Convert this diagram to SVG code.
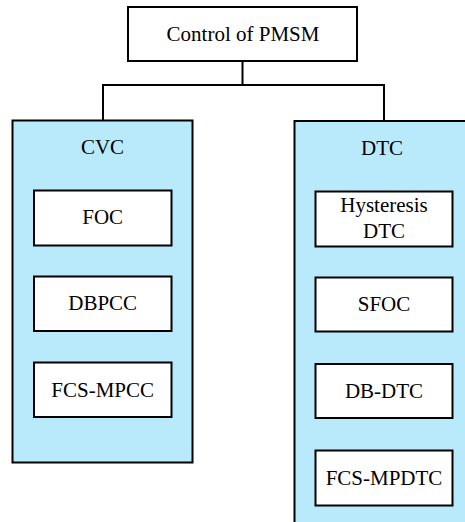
<svg xmlns="http://www.w3.org/2000/svg" width="465" height="522" viewBox="0 0 465 522">
<style>
.box{fill:#ffffff;stroke:#000;stroke-width:2}
.grp{fill:#b8eafc;stroke:#000;stroke-width:2}
.t{font-family:"Liberation Serif","Times New Roman",serif;font-size:21px;fill:#000;text-anchor:middle}
.c{fill:none;stroke:#000;stroke-width:2}
</style>
<rect width="465" height="522" fill="#fff"/>
<g id="connectors">
<path class="c" d="M242.5,61 V85 M103,85 H384 M103,84 V121 M384,84 V121"/>
</g>
<g id="root">
<rect class="box" x="128" y="7" width="229" height="54"/>
<text class="t" x="243" y="41">Control of PMSM</text>
</g>
<g id="cvc">
<rect class="grp" x="12.5" y="120.5" width="180" height="342"/>
<text class="t" x="102.5" y="154">CVC</text>
</g>
<g id="foc">
<rect class="box" x="34" y="190.5" width="137.5" height="55"/>
<text class="t" x="102.7" y="224">FOC</text>
</g>
<g id="dbpcc">
<rect class="box" x="34" y="276.5" width="137.5" height="54.5"/>
<text class="t" x="102.7" y="310">DBPCC</text>
</g>
<g id="fcs-mpcc">
<rect class="box" x="34" y="362.5" width="137.5" height="54.5"/>
<text class="t" x="102.7" y="396.5">FCS-MPCC</text>
</g>
<g id="dtc">
<rect class="grp" x="294.5" y="121" width="180" height="410"/>
<text class="t" x="382" y="155">DTC</text>
</g>
<g id="hysteresis-dtc">
<rect class="box" x="315.5" y="191.5" width="137" height="55"/>
<text class="t" x="384" y="211.5">Hysteresis</text>
<text class="t" x="384" y="238">DTC</text>
</g>
<g id="sfoc">
<rect class="box" x="315.5" y="277.5" width="137" height="54"/>
<text class="t" x="384" y="310.5">SFOC</text>
</g>
<g id="db-dtc">
<rect class="box" x="315.5" y="364" width="137" height="54"/>
<text class="t" x="384" y="398">DB-DTC</text>
</g>
<g id="fcs-mpdtc">
<rect class="box" x="315.5" y="450.5" width="137" height="55"/>
<text class="t" x="384" y="485">FCS-MPDTC</text>
</g>
</svg>
